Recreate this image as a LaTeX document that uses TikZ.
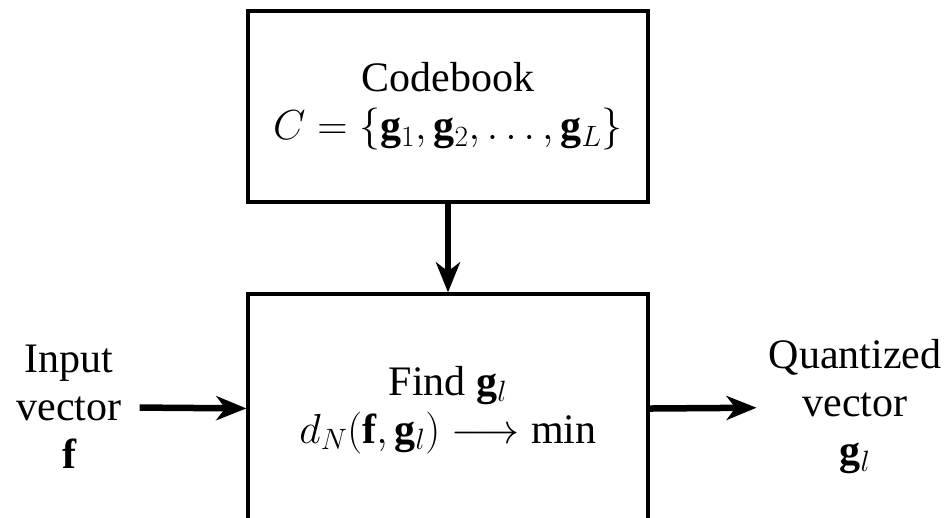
\RequirePackage{fix-cm}
\documentclass[tikz,border=0pt]{standalone}
\usepackage{amsmath,amssymb}
\usepackage{fontspec}
\setmainfont{Liberation Serif}
\usepackage{tikz}
\usetikzlibrary{positioning,calc}
\usetikzlibrary{arrows.meta}
\tikzset{
  blk/.style={draw=black,line width=3.3pt,fill=white,minimum width=400pt,align=center},
  flow/.style={line width=6.5pt,-{Stealth[length=30pt,width=24pt,inset=9pt]}},
  lbl/.style={align=center,inner sep=12pt},
}

\begin{document}
\begin{tikzpicture}[x=1pt,y=-1pt,font=\fontsize{42}{48}\selectfont]
\useasboundingbox (0,0) rectangle (945,517);
\clip (0,0) rectangle (945,517);
\node[blk,minimum height=191pt] (code) at (448,106.5)
  {Codebook\\ $C=\{\mathbf{g}_1,\mathbf{g}_2,\dots,\mathbf{g}_L\}$};
\node[blk,minimum height=232pt] (find) at (448,410)
  {Find $\mathbf{g}_l$\\ $d_N(\mathbf{f},\mathbf{g}_l)\longrightarrow\text{min}$};
\node[lbl,inner sep=18pt] (in) at (69,407) {Input\\ vector\\ $\mathbf{f}$};
\node[lbl] (out) at (855,407) {Quantized\\ vector\\ $\mathbf{g}_l$};
\draw[flow] (code) -- (find);
\draw[flow] (in) -- (find);
\draw[flow] (find) -- (out);
\end{tikzpicture}
\end{document}
